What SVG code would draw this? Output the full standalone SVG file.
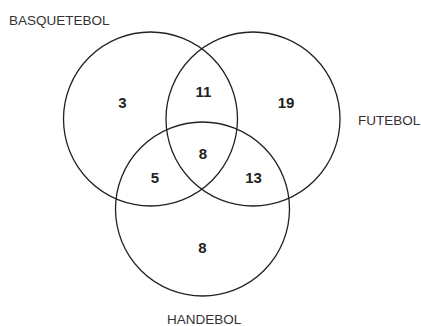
<svg xmlns="http://www.w3.org/2000/svg" width="421" height="326" viewBox="0 0 421 326">
<style>
.c{fill:none;stroke:#222;stroke-width:1.3}
.l{font-family:"Liberation Sans",Arial,sans-serif;font-size:13.5px;fill:#333}
.n{font-family:"Liberation Sans",Arial,sans-serif;font-size:15px;font-weight:bold;fill:#222;text-anchor:middle}
</style>
<rect width="421" height="326" fill="#fff"/>
<g id="basquetebol">
<circle class="c" cx="150.5" cy="119" r="87"/>
<text class="l" x="9" y="25">BASQUETEBOL</text>
</g>
<g id="futebol">
<circle class="c" cx="253" cy="119" r="87"/>
<text class="l" x="358" y="125">FUTEBOL</text>
</g>
<g id="handebol">
<circle class="c" cx="202.5" cy="209" r="87"/>
<text class="l" x="167" y="324">HANDEBOL</text>
</g>
<g id="numbers">
<text class="n" x="122.5" y="108">3</text>
<text class="n" x="203.5" y="97">11</text>
<text class="n" x="286" y="108">19</text>
<text class="n" x="203" y="159">8</text>
<text class="n" x="155" y="183">5</text>
<text class="n" x="253.5" y="183">13</text>
<text class="n" x="202.5" y="253">8</text>
</g>
</svg>
